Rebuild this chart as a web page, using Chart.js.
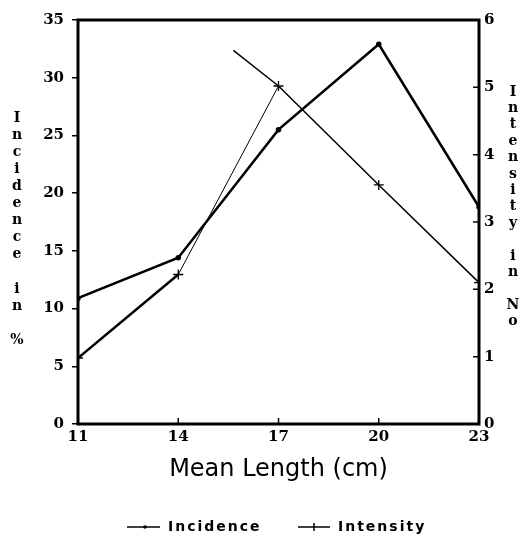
<!DOCTYPE html>
<html>
<head>
<meta charset="utf-8">
<script src="https://cdn.jsdelivr.net/npm/chart.js@4/dist/chart.umd.min.js"></script>
<style>
  html, body { margin: 0; padding: 0; background: #fff; }
</style>
</head>
<body>
<canvas id="chart" width="526" height="540"></canvas>
<script>
// Mean length classes (cm)
const lengths = [11, 14, 17, 20, 23];
// Incidence in %  (left axis)
const incidence = [10.9, 14.4, 25.5, 32.9, 18.8];
// Intensity in No (right axis)
const intensity = [0.98, 2.22, 5.02, 3.55, 2.1];
// the intensity line is drawn on past the 17 cm point, up to here
const runInX = [15.65, 17];
const runInY = [5.55, 5.02];

const leftTicks = [0, 5, 10, 15, 20, 25, 30, 35];
const rightTicks = [0, 1, 2, 3, 4, 5, 6];
const xTicks = [11, 14, 17, 20, 23];

const leftTitle = 'Incidence in %';
const rightTitle = 'Intensity in No';
const xTitle = 'Mean Length (cm)';

const tickFont = { family: 'DejaVu Serif', size: 15, weight: 'bold' };

// frame round the plot + the inside tick marks
const frame = {
  id: 'frame',
  afterDatasetsDraw(chart) {
    const { ctx, chartArea: a, scales } = chart;
    ctx.save();
    ctx.strokeStyle = '#000';
    ctx.lineWidth = 3;
    ctx.strokeRect(a.left, a.top, a.right - a.left, a.bottom - a.top);
    ctx.lineWidth = 1.5;
    ctx.beginPath();
    scales.x.ticks.forEach(t => {
      const px = scales.x.getPixelForValue(t.value);
      ctx.moveTo(px, a.bottom);
      ctx.lineTo(px, a.bottom - 6);
    });
    scales.y1.ticks.forEach(t => {
      const py = scales.y1.getPixelForValue(t.value);
      ctx.moveTo(a.right, py);
      ctx.lineTo(a.right - 6, py);
    });
    ctx.stroke();
    ctx.restore();
  }
};

// axis titles written one letter under the other
function stacked(ctx, text, x, y0, step) {
  for (let i = 0; i < text.length; i++) {
    ctx.fillText(text[i], x, y0 + i * step);
  }
}

const titles = {
  id: 'titles',
  afterDraw(chart) {
    const ctx = chart.ctx;
    ctx.save();
    ctx.fillStyle = '#000';
    ctx.font = 'bold 14px "DejaVu Serif"';
    ctx.textAlign = 'center';
    ctx.textBaseline = 'middle';
    stacked(ctx, leftTitle, 17, 118, 17.1);
    stacked(ctx, rightTitle, 513, 92, 16.4);

    // legend
    const ly = 527;
    ctx.lineWidth = 1.5;
    ctx.strokeStyle = '#000';
    ctx.beginPath();
    ctx.moveTo(127, ly); ctx.lineTo(160, ly);
    ctx.moveTo(298, ly); ctx.lineTo(330, ly);
    ctx.moveTo(314, ly - 4); ctx.lineTo(314, ly + 4);
    ctx.stroke();
    ctx.beginPath();
    ctx.arc(145, ly, 1.8, 0, Math.PI * 2);
    ctx.fill();
    ctx.font = 'bold 14px "DejaVu Sans"';
    ctx.letterSpacing = '2px';
    ctx.textAlign = 'left';
    const sets = chart.data.datasets;
    ctx.fillText(sets[0].label, 168, ly);
    ctx.fillText(sets[1].label, 338, ly);
    ctx.restore();
  }
};

new Chart(document.getElementById('chart'), {
  type: 'line',
  data: {
    datasets: [
      {
        label: 'Incidence',
        data: lengths.map((x, i) => ({ x: x, y: incidence[i] })),
        yAxisID: 'y',
        borderColor: '#000',
        backgroundColor: '#000',
        borderWidth: 2.5,
        pointRadius: 1.5,
        tension: 0
      },
      {
        label: 'Intensity',
        data: lengths.map((x, i) => ({ x: x, y: intensity[i] })),
        yAxisID: 'y1',
        borderColor: '#000',
        backgroundColor: '#000',
        borderWidth: 1.5,
        pointStyle: 'cross',
        pointRadius: 5,
        pointBorderWidth: 1.3,
        tension: 0,
        segment: {
          borderWidth: c => c.p0DataIndex === 0 ? 2.5 : (c.p0DataIndex === 1 ? 1 : 1.5)
        }
      },
      {
        label: '',
        data: runInX.map((x, i) => ({ x: x, y: runInY[i] })),
        yAxisID: 'y1',
        borderColor: '#000',
        borderWidth: 1.5,
        pointRadius: 0,
        tension: 0
      }
    ]
  },
  options: {
    responsive: false,
    animation: false,
    layout: { padding: { top: 20, left: 0, right: 0, bottom: 0 } },
    plugins: {
      legend: { display: false },
      tooltip: { enabled: false }
    },
    scales: {
      x: {
        type: 'linear',
        min: 11,
        max: 23,
        afterBuildTicks: s => { s.ticks = xTicks.map(v => ({ value: v })); },
        afterFit: s => { s.height = 116; },
        grid: { drawOnChartArea: false, drawTicks: false },
        border: { display: false },
        ticks: { color: '#000', font: tickFont, padding: 4 },
        title: {
          display: true,
          text: xTitle,
          color: '#000',
          font: { family: 'DejaVu Sans', size: 24 },
          padding: { top: 0, bottom: 56 }
        }
      },
      y: {
        position: 'left',
        min: 0,
        max: 35,
        afterBuildTicks: s => { s.ticks = leftTicks.map(v => ({ value: v })); },
        afterFit: s => { s.width = 78; },
        grid: { drawOnChartArea: false, tickLength: 6, color: '#000', lineWidth: 1.5 },
        border: { display: false },
        ticks: { color: '#000', font: tickFont, padding: 8 }
      },
      y1: {
        position: 'right',
        min: 0,
        max: 6,
        afterBuildTicks: s => { s.ticks = rightTicks.map(v => ({ value: v })); },
        afterFit: s => { s.width = 47; },
        grid: { drawOnChartArea: false, drawTicks: false },
        border: { display: false },
        ticks: { color: '#000', font: tickFont, padding: 5 }
      }
    }
  },
  plugins: [frame, titles]
});
</script>
</body>
</html>
